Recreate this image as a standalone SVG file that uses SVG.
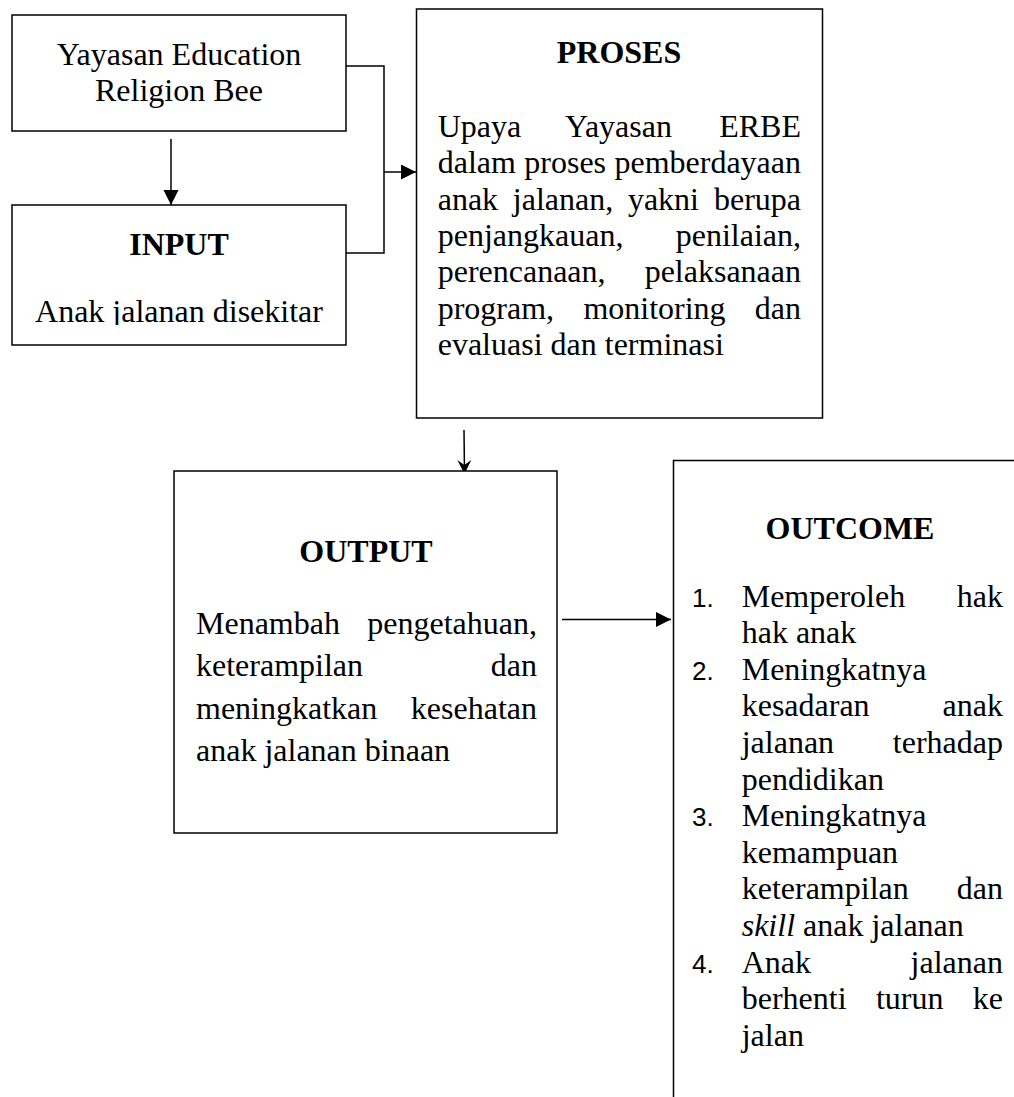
<svg xmlns="http://www.w3.org/2000/svg" width="1014" height="1097" viewBox="0 0 1014 1097">
<style>
.box{fill:#fff;stroke:#000;stroke-width:1.5}
.t{font-family:"Liberation Serif","Times New Roman",serif;font-size:32px;fill:#000}
.b{font-weight:bold}
.c{text-anchor:middle}
.e{text-anchor:end}
.n{font-family:"Liberation Sans",Arial,sans-serif;font-size:26px;fill:#000}
.ln{fill:none;stroke:#000;stroke-width:1.5}
</style>
<defs>
<marker id="tri" markerUnits="userSpaceOnUse" markerWidth="16" markerHeight="16" refX="15" refY="7.5" orient="auto">
<path d="M0,0 L15,7.5 L0,15 z" fill="#000"/>
</marker>
<marker id="stealth" markerUnits="userSpaceOnUse" markerWidth="16" markerHeight="16" refX="14" refY="7" orient="auto">
<path d="M0,0 L14,7 L0,14 L5,7 z" fill="#000"/>
</marker>
<clipPath id="inclip"><rect x="12" y="205" width="334" height="120"/></clipPath>
</defs>
<rect width="1014" height="1097" fill="#fff"/>

<g id="connectors">
<line class="ln" x1="171" y1="139" x2="171" y2="205" marker-end="url(#tri)"/>
<polyline class="ln" points="346,66 384,66 384,253 346,253"/>
<line class="ln" x1="384" y1="172" x2="416" y2="172" marker-end="url(#tri)"/>
<line class="ln" x1="464" y1="430" x2="464.5" y2="474" marker-end="url(#stealth)"/>
<line class="ln" x1="562" y1="619.5" x2="671" y2="619.5" marker-end="url(#tri)"/>
</g>

<g id="node-yayasan">
<rect class="box" x="12" y="15" width="334" height="116"/>
<text class="t c" x="179" y="65">Yayasan Education</text>
<text class="t c" x="179" y="101">Religion Bee</text>
</g>

<g id="node-input">
<rect class="box" x="12" y="205" width="334" height="140"/>
<text class="t b c" x="179" y="255">INPUT</text>
<text class="t c" x="179" y="322" clip-path="url(#inclip)">Anak jalanan disekitar</text>
</g>

<g id="node-proses">
<rect class="box" x="416.5" y="9" width="406" height="409"/>
<text class="t b c" x="619" y="63">PROSES</text>
<text class="t" x="437.7" y="137">Upaya</text>
<text class="t" x="565" y="137">Yayasan</text>
<text class="t e" x="801" y="137">ERBE</text>
<text class="t" x="437.7" y="173.3">dalam</text>
<text class="t" x="524.3" y="173.3">proses</text>
<text class="t e" x="801" y="173.3">pemberdayaan</text>
<text class="t" x="437.7" y="209.6">anak</text>
<text class="t" x="512.8" y="209.6">jalanan,</text>
<text class="t" x="627.9" y="209.6">yakni</text>
<text class="t e" x="801" y="209.6">berupa</text>
<text class="t" x="437.7" y="245.9">penjangkauan,</text>
<text class="t e" x="801" y="245.9">penilaian,</text>
<text class="t" x="437.7" y="282.2">perencanaan,</text>
<text class="t e" x="801" y="282.2">pelaksanaan</text>
<text class="t" x="437.7" y="318.5">program,</text>
<text class="t" x="583.4" y="318.5">monitoring</text>
<text class="t e" x="801" y="318.5">dan</text>
<text class="t" x="437.7" y="354.8">evaluasi dan terminasi</text>
</g>

<g id="node-output">
<rect class="box" x="174" y="471" width="383" height="362"/>
<text class="t b c" x="366" y="562">OUTPUT</text>
<text class="t" x="196" y="633.5">Menambah</text>
<text class="t e" x="537" y="633.5">pengetahuan,</text>
<text class="t" x="196" y="676">keterampilan</text>
<text class="t e" x="537" y="676">dan</text>
<text class="t" x="196" y="718.5">meningkatkan</text>
<text class="t e" x="537" y="718.5">kesehatan</text>
<text class="t" x="196" y="761">anak jalanan binaan</text>
</g>

<g id="node-outcome">
<rect class="box" x="673.5" y="460.5" width="400" height="700"/>
<text class="t b c" x="850" y="539">OUTCOME</text>
<text class="n" x="692" y="606.5">1.</text>
<text class="t" x="741.7" y="606.5">Memperoleh</text>
<text class="t e" x="1003" y="606.5">hak</text>
<text class="t" x="741.7" y="643.1">hak anak</text>
<text class="n" x="692" y="679.7">2.</text>
<text class="t" x="741.7" y="679.7">Meningkatnya</text>
<text class="t" x="741.7" y="716.3">kesadaran</text>
<text class="t e" x="1003" y="716.3">anak</text>
<text class="t" x="741.7" y="752.9">jalanan</text>
<text class="t e" x="1003" y="752.9">terhadap</text>
<text class="t" x="741.7" y="789.5">pendidikan</text>
<text class="n" x="692" y="826.1">3.</text>
<text class="t" x="741.7" y="826.1">Meningkatnya</text>
<text class="t" x="741.7" y="862.7">kemampuan</text>
<text class="t" x="741.7" y="899.3">keterampilan</text>
<text class="t e" x="1003" y="899.3">dan</text>
<text class="t" x="741.7" y="935.9"><tspan font-style="italic">skill</tspan> anak jalanan</text>
<text class="n" x="692" y="972.5">4.</text>
<text class="t" x="741.7" y="972.5">Anak</text>
<text class="t e" x="1003" y="972.5">jalanan</text>
<text class="t" x="741.7" y="1009.1">berhenti</text>
<text class="t" x="875.9" y="1009.1">turun</text>
<text class="t e" x="1003" y="1009.1">ke</text>
<text class="t" x="741.7" y="1045.7">jalan</text>
</g>
</svg>
